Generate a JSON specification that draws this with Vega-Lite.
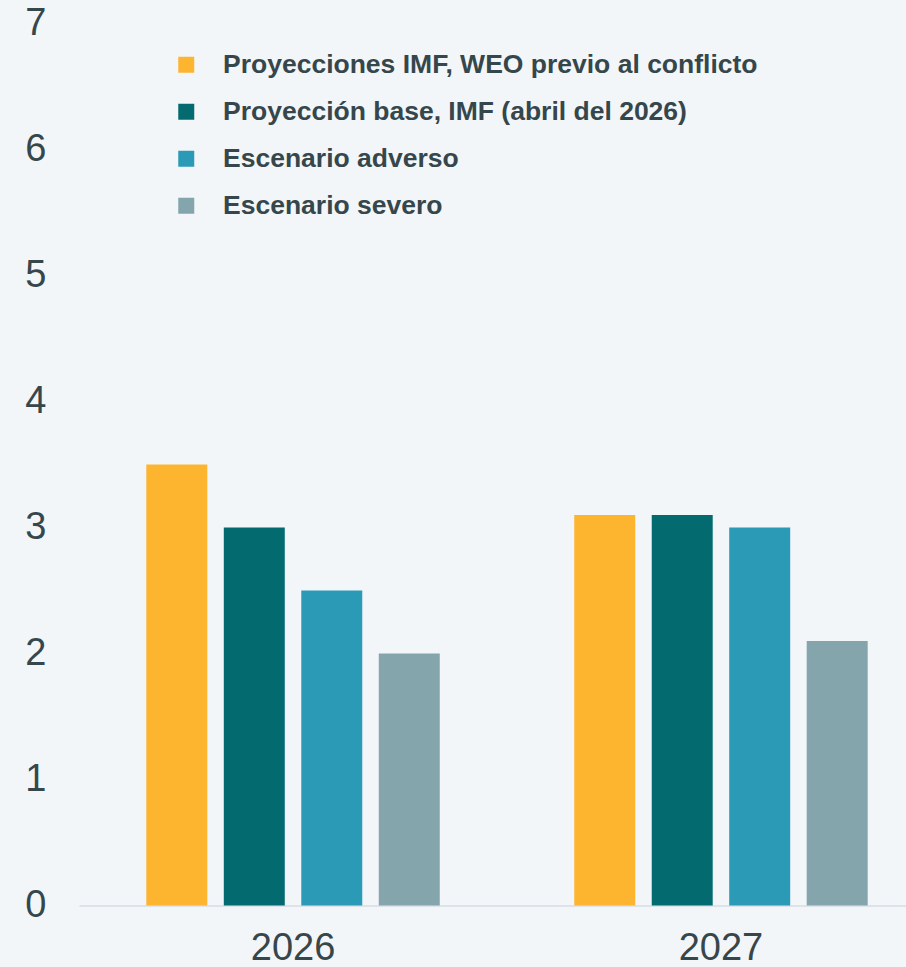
{
  "$schema": "https://vega.github.io/schema/vega-lite/v6.json",
  "autosize": {"type": "none"},
  "padding": {"left": 79, "top": 23.5, "right": 0, "bottom": 61.5},
  "width": 827,
  "height": 882,
  "background": "#f3f6f9",
  "config": {
    "view": {"stroke": null},
    "font": "Liberation Sans"
  },
  "data": {
    "values": [
      {"year": "2026", "serie": "Proyecciones IMF, WEO previo al conflicto", "valor": 3.5},
      {"year": "2026", "serie": "Proyección base, IMF (abril del 2026)", "valor": 3.0},
      {"year": "2026", "serie": "Escenario adverso", "valor": 2.5},
      {"year": "2026", "serie": "Escenario severo", "valor": 2.0},
      {"year": "2027", "serie": "Proyecciones IMF, WEO previo al conflicto", "valor": 3.1},
      {"year": "2027", "serie": "Proyección base, IMF (abril del 2026)", "valor": 3.1},
      {"year": "2027", "serie": "Escenario adverso", "valor": 3.0},
      {"year": "2027", "serie": "Escenario severo", "valor": 2.1}
    ]
  },
  "mark": {"type": "bar"},
  "encoding": {
    "x": {
      "field": "year",
      "type": "nominal",
      "scale": {"range": [0, 856], "paddingInner": 0.2757, "paddingOuter": 0.138},
      "axis": {
        "title": null,
        "labelAngle": 0,
        "labelFontSize": 38,
        "labelColor": "#36474c",
        "labelPadding": 24,
        "ticks": false,
        "tickSize": 0,
        "domainColor": "#dde3e8",
        "domainWidth": 2
      }
    },
    "xOffset": {
      "field": "serie",
      "type": "nominal",
      "sort": ["Proyecciones IMF, WEO previo al conflicto", "Proyección base, IMF (abril del 2026)", "Escenario adverso", "Escenario severo"],
      "scale": {"paddingInner": 0.213, "paddingOuter": 0.1065}
    },
    "y": {
      "field": "valor",
      "type": "quantitative",
      "scale": {"domain": [0, 7], "nice": false},
      "axis": {
        "title": null,
        "values": [0, 1, 2, 3, 4, 5, 6, 7],
        "labelFontSize": 38,
        "labelColor": "#36474c",
        "labelPadding": 33,
        "ticks": false,
        "tickSize": 0,
        "domain": false,
        "grid": false
      }
    },
    "color": {
      "field": "serie",
      "type": "nominal",
      "sort": ["Proyecciones IMF, WEO previo al conflicto", "Proyección base, IMF (abril del 2026)", "Escenario adverso", "Escenario severo"],
      "scale": {
        "domain": ["Proyecciones IMF, WEO previo al conflicto", "Proyección base, IMF (abril del 2026)", "Escenario adverso", "Escenario severo"],
        "range": ["#fdb52f", "#036b70", "#2a9ab7", "#85a5ad"]
      },
      "legend": {
        "title": null,
        "orient": "none",
        "legendX": 94,
        "legendY": 28,
        "symbolType": "square",
        "symbolSize": 256,
        "symbolStrokeWidth": 0,
        "labelFontSize": 26.5,
        "labelFontWeight": "bold",
        "labelColor": "#36474c",
        "labelOffset": 23.5,
        "rowPadding": 20,
        "labelLimit": 700
      }
    }
  }
}
